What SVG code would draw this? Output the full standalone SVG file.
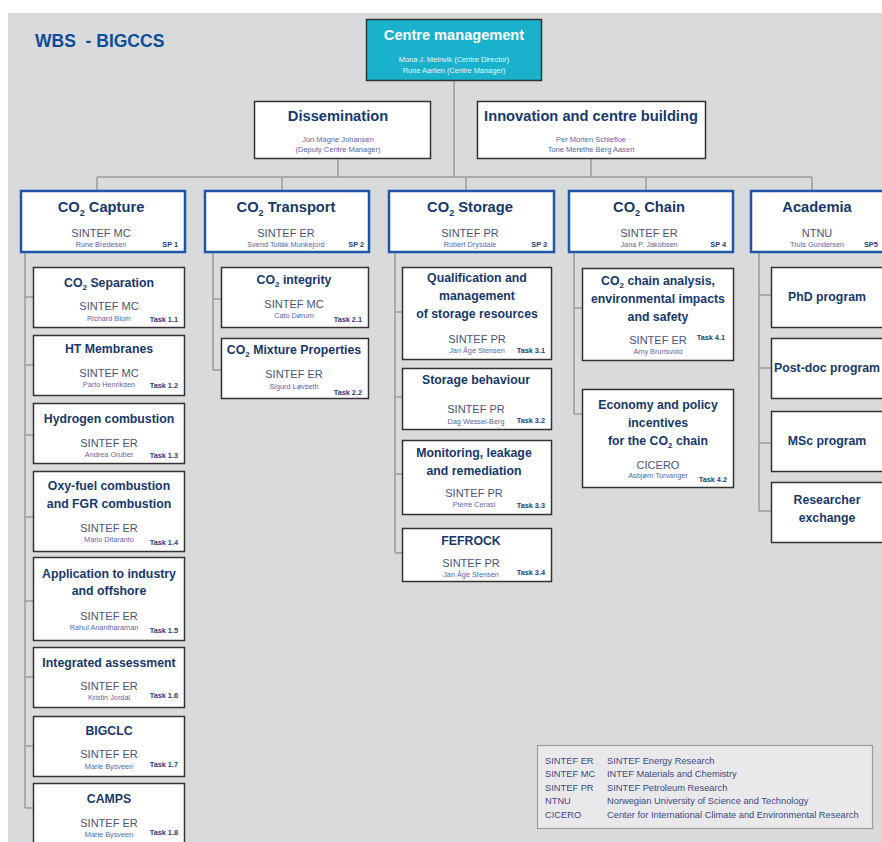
<svg xmlns="http://www.w3.org/2000/svg" width="882" height="842" viewBox="0 0 882 842">
<style>
text{font-family:'Liberation Sans',Arial,sans-serif}
.conn{stroke:#9c9c9c;stroke-width:1.5;fill:none}
.box{fill:#fff;stroke:#333;stroke-width:1.5}
.sp{fill:#fff;stroke:#1f57a6;stroke-width:2.5}
.h1{font-size:14.7px;font-weight:bold;fill:#17386b;text-anchor:middle}
.t{font-size:12.3px;font-weight:bold;fill:#17386b;text-anchor:middle}
.org{font-size:11px;fill:#4a5378;text-anchor:middle}
.nm{font-size:7.3px;fill:#5a66a8;text-anchor:middle}
.tk{font-size:7.3px;font-weight:bold;fill:#26407a;text-anchor:end}
.sub{font-size:7.5px;fill:#5a66a8;text-anchor:middle}
.lg{font-size:9.3px;fill:#3a4a85}
</style>
<rect x="8" y="13" width="874" height="829" fill="#d9dadc"/>
<text x="35" y="47" font-size="17.5" font-weight="bold" fill="#0b4d9a" xml:space="preserve">WBS  - BIGCCS</text>

<g id="connectors">
<path class="conn" d="M454 80V177M338 158V177M591 158V177M97 177H812M97 177V191M282 177V191M466 177V191M646 177V191M812 177V191"/>
<path class="conn" d="M25 252V808M25 297H33M25 365H33M25 435H33M25 517H33M25 601H33M25 677H33M25 746H33M25 808H33"/>
<path class="conn" d="M213 252V370M213 299H221M213 370H221"/>
<path class="conn" d="M395 252V553M395 312H402M395 397H402M395 474H402M395 553H402"/>
<path class="conn" d="M574 252V414M574 308H582M574 414H582"/>
<path class="conn" d="M759 252V511M759 295H771M759 368H771M759 443H771M759 511H771"/>
</g>

<g id="centre">
<rect x="366.5" y="19.5" width="175" height="61" fill="#1ab1cc" stroke="#333" stroke-width="1.5"/>
<text x="454" y="40" font-size="14.6" font-weight="bold" fill="#fff" text-anchor="middle">Centre management</text>
<text x="454" y="62" font-size="7.4" fill="#e8f6fa" text-anchor="middle">Mona J. Melnvik (Centre Director)</text>
<text x="454" y="73" font-size="7.4" fill="#e8f6fa" text-anchor="middle">Rune Aarlien (Centre Manager)</text>
</g>

<g id="dissemination">
<rect class="box" x="254.5" y="101.5" width="176" height="57"/>
<text class="h1" x="338" y="121">Dissemination</text>
<text class="sub" x="338" y="142">Jon Magne Johansen</text>
<text class="sub" x="338" y="152">(Deputy Centre Manager)</text>
</g>

<g id="innovation">
<rect class="box" x="477.5" y="101.5" width="228" height="57"/>
<text class="h1" x="591" y="121">Innovation and centre building</text>
<text class="sub" x="591" y="142">Per Morten Schiefloe</text>
<text class="sub" x="591" y="152">Tone Merethe Berg Aasen</text>
</g>

<g id="sp1">
<rect class="sp" x="21" y="191" width="164" height="61"/>
<text class="h1" x="101" y="212">CO<tspan font-size="9" dy="4">2</tspan><tspan dy="-4"> Capture</tspan></text>
<text class="org" x="101" y="237">SINTEF MC</text>
<text class="nm" x="101" y="247">Rune Bredesen</text>
<text class="tk" x="178" y="247">SP 1</text>
</g>
<g id="sp2">
<rect class="sp" x="205" y="191" width="164" height="61"/>
<text class="h1" x="286" y="212">CO<tspan font-size="9" dy="4">2</tspan><tspan dy="-4"> Transport</tspan></text>
<text class="org" x="286" y="237">SINTEF ER</text>
<text class="nm" x="286" y="247">Svend Tollak Munkejord</text>
<text class="tk" x="364" y="247">SP 2</text>
</g>
<g id="sp3">
<rect class="sp" x="389" y="191" width="165" height="61"/>
<text class="h1" x="470" y="212">CO<tspan font-size="9" dy="4">2</tspan><tspan dy="-4"> Storage</tspan></text>
<text class="org" x="470" y="237">SINTEF PR</text>
<text class="nm" x="470" y="247">Robert Drysdale</text>
<text class="tk" x="547" y="247">SP 3</text>
</g>
<g id="sp4">
<rect class="sp" x="569" y="191" width="164" height="61"/>
<text class="h1" x="649" y="212">CO<tspan font-size="9" dy="4">2</tspan><tspan dy="-4"> Chain</tspan></text>
<text class="org" x="649" y="237">SINTEF ER</text>
<text class="nm" x="649" y="247">Jana P. Jakobsen</text>
<text class="tk" x="726" y="247">SP 4</text>
</g>
<g id="sp5">
<rect class="sp" x="751" y="191" width="134" height="61"/>
<text class="h1" x="817" y="212">Academia</text>
<text class="org" x="817" y="237">NTNU</text>
<text class="nm" x="817" y="247">Truls Gundersen</text>
<text class="tk" x="864" y="247" style="text-anchor:start">SP5</text>
</g>

<g id="task1-1">
<rect class="box" x="33.5" y="267.5" width="151" height="60"/>
<text class="t" x="109" y="287">CO<tspan font-size="8" dy="3">2</tspan><tspan dy="-3"> Separation</tspan></text>
<text class="org" x="109" y="310">SINTEF MC</text>
<text class="nm" x="109" y="321">Richard Blom</text>
<text class="tk" x="178" y="322">Task 1.1</text>
</g>
<g id="task1-2">
<rect class="box" x="33.5" y="335.5" width="151" height="60"/>
<text class="t" x="109" y="353">HT Membranes</text>
<text class="org" x="109" y="377">SINTEF MC</text>
<text class="nm" x="109" y="387">Parto Henriksen</text>
<text class="tk" x="178" y="388">Task 1.2</text>
</g>
<g id="task1-3">
<rect class="box" x="33.5" y="403.5" width="151" height="60"/>
<text class="t" x="109" y="423">Hydrogen combustion</text>
<text class="org" x="109" y="447">SINTEF ER</text>
<text class="nm" x="109" y="457">Andrea Gruber</text>
<text class="tk" x="178" y="458">Task 1.3</text>
</g>
<g id="task1-4">
<rect class="box" x="33.5" y="471.5" width="151" height="80"/>
<text class="t" x="109" y="490">Oxy-fuel combustion</text>
<text class="t" x="109" y="508">and FGR combustion</text>
<text class="org" x="109" y="532">SINTEF ER</text>
<text class="nm" x="109" y="542">Mario Ditaranto</text>
<text class="tk" x="178" y="545">Task 1.4</text>
</g>
<g id="task1-5">
<rect class="box" x="33.5" y="557.5" width="151" height="83"/>
<text class="t" x="109" y="578">Application to industry</text>
<text class="t" x="109" y="595">and offshore</text>
<text class="org" x="109" y="620">SINTEF ER</text>
<text class="nm" x="104" y="630">Rahul Anantharaman</text>
<text class="tk" x="178" y="633">Task 1.5</text>
</g>
<g id="task1-6">
<rect class="box" x="33.5" y="647.5" width="151" height="60"/>
<text class="t" x="109" y="667">Integrated assessment</text>
<text class="org" x="109" y="690">SINTEF ER</text>
<text class="nm" x="109" y="700">Kristin Jordal</text>
<text class="tk" x="178" y="698">Task 1.6</text>
</g>
<g id="task1-7">
<rect class="box" x="33.5" y="716.5" width="151" height="60"/>
<text class="t" x="109" y="735">BIGCLC</text>
<text class="org" x="109" y="758">SINTEF ER</text>
<text class="nm" x="109" y="769">Marie Bysveen</text>
<text class="tk" x="178" y="767">Task 1.7</text>
</g>
<g id="task1-8">
<rect class="box" x="33.5" y="783.5" width="151" height="70"/>
<text class="t" x="109" y="803">CAMPS</text>
<text class="org" x="109" y="827">SINTEF ER</text>
<text class="nm" x="109" y="837">Marie Bysveen</text>
<text class="tk" x="178" y="835">Task 1.8</text>
</g>

<g id="task2-1">
<rect class="box" x="221.5" y="267.5" width="147" height="60"/>
<text class="t" x="294" y="284">CO<tspan font-size="8" dy="3">2</tspan><tspan dy="-3"> integrity</tspan></text>
<text class="org" x="294" y="308">SINTEF MC</text>
<text class="nm" x="294" y="318">Cato Dørum</text>
<text class="tk" x="362" y="322">Task 2.1</text>
</g>
<g id="task2-2">
<rect class="box" x="221.5" y="338.5" width="147" height="60"/>
<text class="t" x="294" y="354">CO<tspan font-size="8" dy="3">2</tspan><tspan dy="-3"> Mixture Properties</tspan></text>
<text class="org" x="294" y="378">SINTEF ER</text>
<text class="nm" x="294" y="389">Sigurd Løvseth</text>
<text class="tk" x="362" y="395">Task 2.2</text>
</g>

<g id="task3-1">
<rect class="box" x="402.5" y="267.5" width="149" height="92"/>
<text class="t" x="477" y="282">Qualification and</text>
<text class="t" x="477" y="300">management</text>
<text class="t" x="477" y="318">of storage resources</text>
<text class="org" x="477" y="343">SINTEF PR</text>
<text class="nm" x="477" y="353">Jan Åge Stensen</text>
<text class="tk" x="545" y="353">Task 3.1</text>
</g>
<g id="task3-2">
<rect class="box" x="402.5" y="368.5" width="149" height="61"/>
<text class="t" x="476" y="384">Storage behaviour</text>
<text class="org" x="476" y="413">SINTEF PR</text>
<text class="nm" x="476" y="424">Dag Wessel-Berg</text>
<text class="tk" x="545" y="423">Task 3.2</text>
</g>
<g id="task3-3">
<rect class="box" x="402.5" y="440.5" width="149" height="74"/>
<text class="t" x="474" y="457">Monitoring, leakage</text>
<text class="t" x="474" y="475">and remediation</text>
<text class="org" x="474" y="497">SINTEF PR</text>
<text class="nm" x="474" y="507">Pierre Cerasi</text>
<text class="tk" x="545" y="508">Task 3.3</text>
</g>
<g id="task3-4">
<rect class="box" x="402.5" y="528.5" width="149" height="53"/>
<text class="t" x="471" y="545">FEFROCK</text>
<text class="org" x="471" y="567">SINTEF PR</text>
<text class="nm" x="471" y="577">Jan Åge Stensen</text>
<text class="tk" x="545" y="575">Task 3.4</text>
</g>

<g id="task4-1">
<rect class="box" x="582.5" y="268.5" width="151" height="92"/>
<text class="t" x="658" y="285">CO<tspan font-size="8" dy="3">2</tspan><tspan dy="-3"> chain analysis,</tspan></text>
<text class="t" x="658" y="303">environmental impacts</text>
<text class="t" x="658" y="321">and safety</text>
<text class="org" x="658" y="344">SINTEF ER</text>
<text class="nm" x="658" y="354">Amy Brunsvold</text>
<text class="tk" x="725" y="340">Task 4.1</text>
</g>
<g id="task4-2">
<rect class="box" x="582.5" y="389.5" width="151" height="98"/>
<text class="t" x="658" y="409">Economy and policy</text>
<text class="t" x="658" y="427">incentives</text>
<text class="t" x="658" y="445">for the CO<tspan font-size="8" dy="3">2</tspan><tspan dy="-3"> chain</tspan></text>
<text class="org" x="658" y="469">CICERO</text>
<text class="nm" x="658" y="478">Asbjørn Torvanger</text>
<text class="tk" x="727" y="482">Task 4.2</text>
</g>

<g id="phd">
<rect class="box" x="771.5" y="267.5" width="120" height="60"/>
<text class="t" x="827" y="301">PhD program</text>
</g>
<g id="postdoc">
<rect class="box" x="771.5" y="338.5" width="120" height="60"/>
<text class="t" x="827" y="372">Post-doc program</text>
</g>
<g id="msc">
<rect class="box" x="771.5" y="411.5" width="120" height="60"/>
<text class="t" x="827" y="445">MSc program</text>
</g>
<g id="researcher">
<rect class="box" x="771.5" y="482.5" width="120" height="60"/>
<text class="t" x="827" y="504">Researcher</text>
<text class="t" x="827" y="522">exchange</text>
</g>

<g id="legend">
<rect x="537.5" y="745.5" width="335" height="83" fill="#e9e9eb" stroke="#9c9c9c" stroke-width="1.2"/>
<text class="lg" x="545" y="764">SINTEF ER</text><text class="lg" x="607" y="764">SINTEF Energy Research</text>
<text class="lg" x="545" y="777">SINTEF MC</text><text class="lg" x="607" y="777">INTEF Materials and Chemistry</text>
<text class="lg" x="545" y="791">SINTEF PR</text><text class="lg" x="607" y="791">SINTEF Petroleum Research</text>
<text class="lg" x="545" y="804">NTNU</text><text class="lg" x="607" y="804">Norwegian University of Science and Technology</text>
<text class="lg" x="545" y="818">CICERO</text><text class="lg" x="607" y="818">Center for International Climate and Environmental Research</text>
</g>
</svg>
